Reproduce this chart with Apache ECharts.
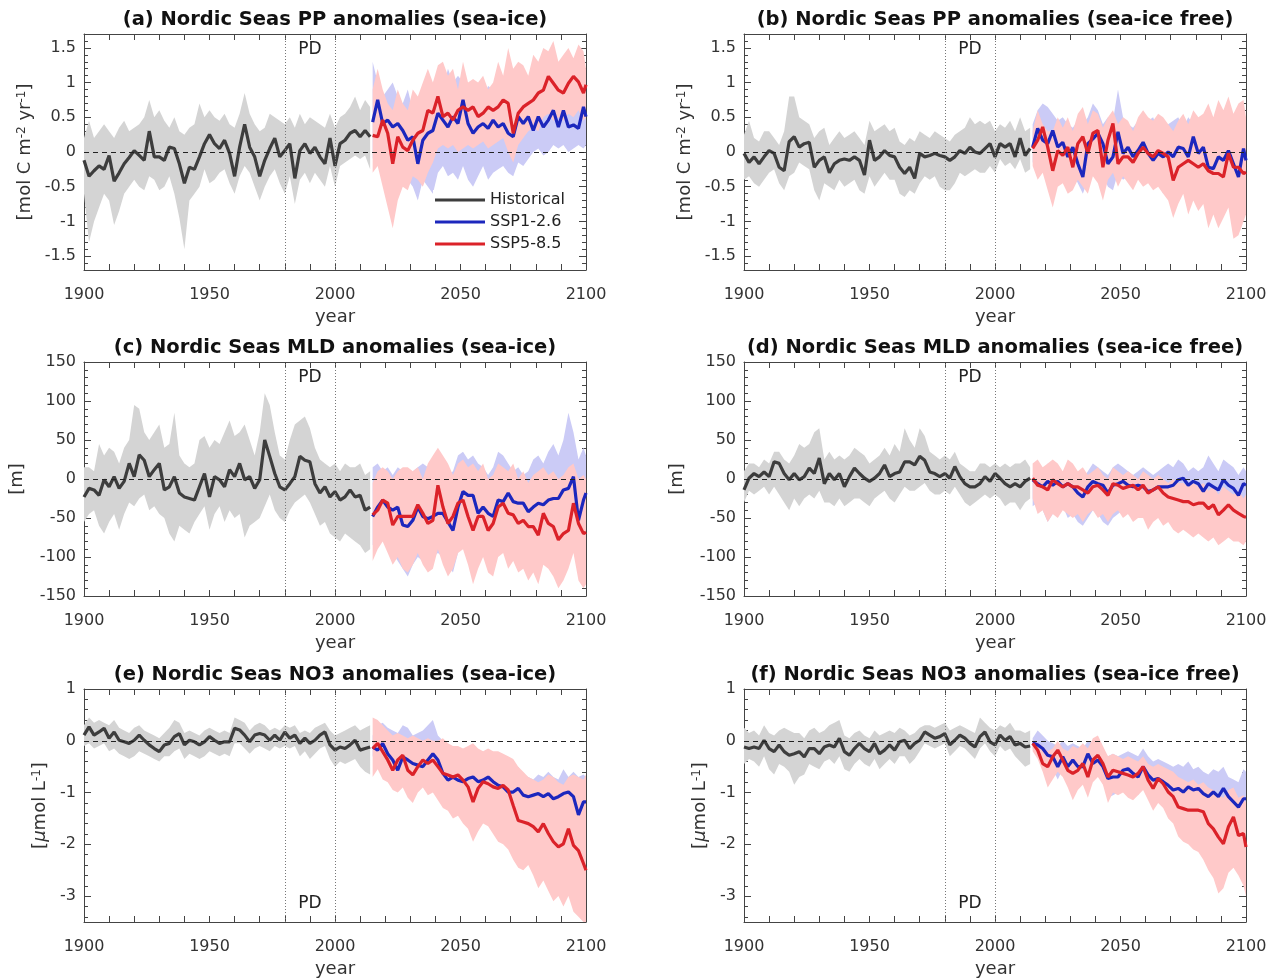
<!DOCTYPE html>
<html>
<head>
<meta charset="utf-8">
<script src="https://cdn.jsdelivr.net/npm/echarts@6/dist/echarts.min.js"></script>
<style>
  html, body { margin: 0; padding: 0; background: #fff; }
  #chart { width: 1272px; height: 979px; }
</style>
</head>
<body>
<div id="chart"></div>
<script>
const FONT = 'DejaVu Sans';

const range = (from, to, step) => {
    const out = [];
    for (let v = from; v <= to + 1e-9; v += step) {
        out.push(Math.round(v * 100) / 100);
    }
    return out;
};

// x categories: historical every 2 years, scenarios every 2 years up to 2100
const histYears = range(1900, 2014, 2);
const futYears = range(2015, 2099, 2).concat([2100]);

// tick labels
const ppTicks = [-1.5, -1, -0.5, 0, 0.5, 1, 1.5];
const mldTicks = [-150, -100, -50, 0, 50, 100, 150];
const no3Ticks = [-3, -2, -1, 0, 1];

// (a) PP, sea-ice
const aHist = [-0.12,-0.35,-0.27,-0.2,-0.25,-0.05,-0.42,-0.3,-0.17,-0.08, 0.02,-0.05,-0.12,0.3,-0.07,-0.07,-0.12,0.07,0.05,-0.17, -0.45,-0.22,-0.25,-0.07,0.12,0.25,0.12,0.05,0.17,-0.02, -0.35,0.07,0.4,0.07,-0.07,-0.35,-0.12,0.05,0.2,-0.07, 0.02,0.12,-0.38,0.02,0.12,-0.02,0.07,-0.07,-0.17,0.2, -0.2,0.12,0.17,0.27,0.31,0.22,0.31,0.22];
const aHistHi = [0.2,0.45,0.2,0.3,0.4,0.3,0.2,0.35,0.45,0.3, 0.35,0.4,0.5,0.75,0.5,0.6,0.45,0.35,0.5,0.3, 0.25,0.35,0.4,0.7,0.5,0.6,0.5,0.45,0.55,0.4, 0.35,0.55,0.85,0.55,0.4,0.3,0.35,0.55,0.5,0.45, 0.4,0.5,0.35,0.55,0.4,0.5,0.45,0.4,0.35,0.55, 0.35,0.5,0.55,0.65,0.8,0.6,0.75,0.65];
const aHistLo = [-0.6,-1.3,-1.0,-0.8,-0.6,-0.7,-1.05,-0.85,-0.6,-0.5, -0.4,-0.5,-0.55,-0.35,-0.4,-0.55,-0.5,-0.35,-0.6,-0.95, -1.4,-0.7,-0.6,-0.5,-0.25,-0.45,-0.4,-0.3,-0.25,-0.45, -0.6,-0.35,-0.2,-0.3,-0.5,-0.7,-0.5,-0.35,-0.25,-0.45, -0.6,-0.35,-0.75,-0.4,-0.3,-0.45,-0.3,-0.4,-0.5,-0.2, -0.5,-0.2,-0.15,-0.1,-0.05,-0.1,-0.05,-0.25];
const aSsp1 = [0.43,0.75,0.41,0.46,0.36,0.41,0.31,0.17,0.22,-0.17, 0.17,0.27,0.31,0.56,0.46,0.36,0.51,0.41,0.75,0.41, 0.27,0.36,0.41,0.34,0.46,0.36,0.41,0.27,0.22,0.51, 0.41,0.51,0.31,0.51,0.36,0.46,0.6,0.36,0.6,0.36, 0.39,0.34,0.65,0.51];
const aSsp1Hi = [1.3,1.0,0.8,0.9,1.0,0.8,0.7,0.9,0.6,0.7, 0.7,0.8,1.0,1.1,0.9,1.2,1.0,1.1,1.0,0.95, 1.0,0.9,0.8,0.95,0.9,0.85,0.9,0.8,0.7,0.95, 0.9,1.0,0.8,0.9,0.85,1.0,1.1,0.9,1.0,0.85, 0.9,0.95,1.0,0.9];
const aSsp1Lo = [-0.1,0.1,-0.1,-0.2,-0.3,-0.1,-0.3,-0.4,-0.5,-0.7, -0.4,-0.5,-0.6,-0.3,-0.2,-0.35,-0.3,-0.4,-0.2,-0.4, -0.5,-0.35,-0.2,-0.4,-0.3,-0.25,-0.2,-0.3,-0.35,-0.15, -0.2,-0.1,0.0,0.05,-0.05,0.0,0.1,0.05,0.1,0.0, 0.05,0.1,0.05,0.1];
const aSsp5 = [0.24,0.22,0.46,0.27,-0.17,0.22,0.07,0.02,0.17,0.27, 0.31,0.6,0.56,0.8,0.51,0.56,0.46,0.6,0.65,0.6, 0.65,0.51,0.56,0.65,0.6,0.65,0.75,0.7,0.27,0.56, 0.65,0.7,0.75,0.85,0.89,1.09,0.99,0.89,0.85,0.99, 1.09,1.01,0.85,0.97];
const aSsp5Hi = [0.9,1.2,0.9,0.7,0.6,0.9,0.7,0.6,0.9,0.8, 1.0,1.2,1.0,1.25,1.3,1.1,1.2,0.9,1.3,1.0, 1.05,1.0,1.1,0.9,1.0,1.3,1.1,1.5,1.2,1.3, 1.25,1.1,1.4,1.3,1.5,1.45,1.6,1.3,1.4,1.5, 1.35,1.55,1.45,1.2];
const aSsp5Lo = [-0.3,-0.2,-0.5,-0.8,-1.1,-0.7,-0.5,-0.55,-0.35,-0.4, -0.5,-0.3,-0.15,0.05,0.1,0.05,0.1,0.0,0.05,0.1, 0.05,0.1,0.15,0.05,0.1,0.15,0.2,0.0,-0.15,0.1, 0.2,0.3,0.35,0.3,0.5,0.55,0.45,0.5,0.45,0.55, 0.5,0.6,0.45,0.5];

// (b) PP, sea-ice free
const bHist = [-0.02,-0.15,-0.07,-0.17,-0.07,0.02,-0.02,-0.22,-0.27,0.15, 0.22,0.07,0.12,0.14,-0.22,-0.12,-0.07,-0.3,-0.17,-0.12, -0.1,-0.12,-0.07,-0.12,-0.33,0.17,-0.12,-0.07,0.02,-0.05, -0.07,-0.22,-0.31,-0.22,-0.38,-0.02,-0.07,-0.05,-0.02,-0.05, -0.07,-0.12,-0.07,0.02,-0.02,0.07,0.0,-0.02,0.05,0.12, -0.07,0.12,0.07,0.12,-0.07,0.2,-0.05,0.05];
const bHistHi = [0.25,0.45,0.2,0.15,0.3,0.3,0.2,0.1,0.3,0.8, 0.8,0.5,0.45,0.4,0.2,0.3,0.35,0.1,0.2,0.3, 0.2,0.25,0.3,0.2,0.1,0.45,0.3,0.35,0.4,0.3, 0.35,0.15,0.1,0.2,0.15,0.3,0.25,0.2,0.3,0.25, 0.2,0.15,0.25,0.3,0.35,0.5,0.4,0.45,0.4,0.45, 0.3,0.4,0.35,0.45,0.3,0.5,0.3,0.35];
const bHistLo = [-0.4,-0.35,-0.45,-0.5,-0.4,-0.3,-0.25,-0.45,-0.55,-0.35, -0.3,-0.15,-0.2,-0.25,-0.55,-0.7,-0.45,-0.5,-0.55,-0.4, -0.5,-0.45,-0.4,-0.55,-0.6,-0.35,-0.5,-0.4,-0.3,-0.4, -0.4,-0.6,-0.65,-0.55,-0.6,-0.45,-0.35,-0.4,-0.35,-0.5, -0.55,-0.55,-0.45,-0.3,-0.35,-0.3,-0.25,-0.3,-0.3,-0.2, -0.3,-0.1,-0.2,-0.15,-0.25,-0.1,-0.3,-0.25];
const bSsp1 = [0.07,0.34,0.17,0.12,0.31,0.07,0.14,-0.07,0.07,-0.17, -0.36,0.12,0.19,0.27,0.12,-0.17,-0.07,0.29,-0.02,0.07, -0.07,0.02,0.14,-0.02,-0.12,-0.02,-0.07,0.0,-0.07,0.07, 0.05,-0.07,0.22,-0.02,0.07,-0.22,-0.24,-0.07,-0.12,0.02, -0.17,-0.36,0.05,-0.12];
const bSsp1Hi = [0.4,0.6,0.7,0.65,0.55,0.45,0.5,0.4,0.35,0.45, 0.4,0.5,0.7,0.6,0.4,0.5,0.45,0.9,0.5,0.4, 0.35,0.45,0.5,0.45,0.5,0.3,0.35,0.4,0.45,0.5, 0.35,0.5,0.4,0.3,0.45,0.3,0.25,0.35,0.3,0.4, 0.2,0.3,0.25,0.2];
const bSsp1Lo = [-0.15,-0.1,-0.3,-0.2,-0.3,-0.35,-0.3,-0.4,-0.3,-0.45, -0.6,-0.4,-0.3,-0.25,-0.35,-0.5,-0.55,-0.3,-0.4,-0.35, -0.45,-0.3,-0.4,-0.35,-0.5,-0.45,-0.6,-0.5,-0.45,-0.4, -0.35,-0.5,-0.3,-0.4,-0.35,-0.55,-0.5,-0.45,-0.5,-0.4, -0.55,-0.6,-0.4,-0.45];
const bSsp5 = [0.05,0.17,0.36,0.07,-0.27,0.02,-0.05,0.07,-0.22,0.12, 0.22,-0.02,0.27,0.31,-0.22,0.17,0.41,-0.17,-0.07,-0.07, -0.15,-0.02,0.07,-0.02,-0.07,0.02,-0.02,-0.07,-0.41,-0.22, -0.17,-0.12,-0.17,-0.22,-0.17,-0.27,-0.31,-0.31,-0.36,-0.02, -0.22,-0.22,-0.31,-0.29];
const bSsp5Hi = [0.3,0.6,0.4,0.3,0.3,0.5,0.35,0.5,0.3,0.55, 0.65,0.4,0.6,0.55,0.35,0.5,0.6,0.4,0.5,0.45, 0.3,0.5,0.6,0.5,0.45,0.55,0.5,0.4,0.3,0.45, 0.55,0.4,0.6,0.5,0.55,0.7,0.5,0.75,0.6,0.8, 0.55,0.7,0.75,0.5];
const bSsp5Lo = [-0.2,-0.4,-0.3,-0.55,-0.8,-0.5,-0.45,-0.6,-0.55,-0.4, -0.5,-0.6,-0.35,-0.45,-0.7,-0.4,-0.3,-0.5,-0.35,-0.45, -0.55,-0.4,-0.5,-0.45,-0.55,-0.5,-0.6,-0.7,-0.95,-0.75, -0.6,-0.9,-0.7,-0.85,-0.75,-1.1,-0.9,-1.1,-0.95,-0.8, -1.25,-1.2,-1.0,-0.9];

// (c) MLD, sea-ice
const cHist = [-23,-12,-14,-21,-1,-10,3,-12,-3,20, 3,31,24,3,12,20,-14,-10,3,-18, -23,-25,-27,-10,7,-23,3,-1,-10,12, 3,20,-1,3,-12,-1,50,29,7,-10, -14,-6,3,29,24,22,-6,-18,-10,-23, -16,-27,-23,-14,-23,-21,-40,-36];
const cHistHi = [15,15,10,45,30,40,35,20,40,50, 95,90,60,50,60,70,40,45,85,30, 20,15,20,50,55,40,50,45,60,75, 55,60,70,50,30,60,110,95,60,30, 25,50,70,75,80,65,40,25,20,15, 20,10,20,15,15,20,5,10];
const cHistLo = [-55,-45,-40,-60,-70,-55,-45,-65,-45,-30, -35,-25,-20,-40,-35,-45,-50,-70,-80,-60, -65,-70,-55,-45,-35,-65,-45,-35,-55,-40, -50,-45,-75,-60,-55,-50,-35,-20,-40,-50, -55,-40,-30,-25,-20,-30,-45,-60,-55,-70, -75,-80,-70,-75,-80,-85,-95,-90];
const cSsp1 = [-48,-36,-27,-36,-40,-36,-59,-61,-53,-36, -48,-51,-48,-44,-44,-55,-66,-36,-16,-21, -21,-44,-36,-44,-48,-27,-29,-18,-29,-31, -31,-42,-36,-31,-33,-27,-25,-25,-14,-12, 3,-53,-27,-18];
const cSsp1Hi = [15,20,10,15,5,15,10,0,10,15, 20,15,10,25,15,5,10,30,35,25, 30,20,15,5,15,35,30,20,10,15, 5,10,25,30,20,35,45,30,50,85, 60,25,40,30];
const cSsp1Lo = [-85,-80,-70,-90,-95,-105,-115,-125,-110,-100, -105,-110,-100,-95,-100,-110,-120,-95,-80,-90, -95,-100,-90,-100,-105,-90,-85,-80,-90,-95, -90,-100,-95,-90,-95,-85,-90,-95,-80,-70, -60,-100,-90,-85];
const cSsp5 = [-46,-40,-27,-31,-59,-48,-48,-48,-48,-33, -44,-57,-53,-8,-36,-57,-48,-31,-27,-48, -66,-48,-48,-66,-57,-36,-31,-44,-46,-57, -53,-61,-61,-72,-44,-57,-61,-78,-70,-66, -31,-57,-70,-68];
const cSsp5Hi = [-5,10,15,10,0,10,15,15,10,15, 0,20,30,40,30,20,5,20,25,15, 20,10,20,0,5,20,15,10,20,0, 10,-5,5,10,15,5,10,0,5,15, 20,0,5,0];
const cSsp5Lo = [-105,-90,-80,-95,-110,-100,-115,-120,-110,-95, -110,-120,-115,-90,-110,-125,-115,-95,-90,-110, -135,-115,-100,-120,-125,-100,-95,-115,-105,-120, -115,-130,-120,-135,-110,-115,-125,-140,-130,-115, -95,-130,-140,-135];

// (d) MLD, sea-ice free
const dHist = [-14,1,7,3,9,3,22,20,7,-1, 7,-1,3,14,7,27,-6,7,-1,7, -10,3,14,7,1,-3,1,7,18,3, 7,9,22,22,18,29,24,9,7,3, 7,1,16,3,-6,-10,-10,-6,3,-3, 7,1,-6,-10,-6,-10,-3,1];
const dHistHi = [10,20,20,15,25,20,35,35,25,20, 30,45,40,45,60,65,25,35,25,30, 25,30,40,35,30,20,25,30,40,30, 45,35,65,50,40,65,55,35,30,25, 30,25,35,20,15,10,10,20,20,15, 20,15,20,15,20,20,25,15];
const dHistLo = [-30,-15,-20,-15,-10,-20,-10,-20,-30,-40, -25,-35,-25,-20,-25,-15,-30,-30,-35,-25, -35,-30,-25,-25,-30,-35,-25,-20,-15,-25, -30,-20,-10,-15,-15,-10,-5,-15,-20,-20, -15,-20,-10,-20,-30,-35,-30,-25,-20,-25, -20,-25,-35,-30,-30,-40,-30,-25];
const dSsp1 = [-1,-6,-10,-3,-8,-3,-10,-6,-10,-18, -23,-10,-3,-6,-8,-18,-8,-6,-3,-8, -10,-8,-10,-16,-14,-10,-10,-10,-8,-1, 1,-8,-3,-6,-16,-6,-10,-14,-1,-8, -12,-21,-6,-8];
const dSsp1Hi = [5,15,10,20,15,10,5,15,10,5, 0,10,20,15,10,5,15,20,15,10, 5,10,15,10,5,10,15,20,15,25, 20,10,15,10,15,30,20,10,25,20, 15,5,15,10];
const dSsp1Lo = [-35,-30,-40,-55,-45,-40,-35,-50,-45,-55, -60,-50,-40,-45,-55,-60,-50,-45,-40,-45, -50,-45,-40,-45,-40,-35,-30,-35,-30,-25, -25,-35,-30,-35,-40,-30,-35,-40,-25,-30, -35,-45,-35,-35];
const dSsp5 = [1,-8,-10,-14,-1,-6,-10,-6,-10,-10, -14,-18,-10,-8,-14,-21,-6,-8,-12,-10, -8,-14,-8,-18,-14,-10,-18,-23,-25,-27, -29,-29,-33,-31,-31,-38,-33,-46,-40,-33, -40,-44,-48,-49];
const dSsp5Hi = [20,25,15,20,25,20,10,25,20,10, 15,5,10,15,5,0,15,10,5,10, 5,0,10,5,0,5,0,-5,0,-5, -5,-10,-5,-10,-5,-15,-10,-20,-10,-15, -20,-15,-25,-20];
const dSsp5Lo = [-25,-45,-40,-55,-45,-50,-40,-45,-50,-45, -55,-45,-40,-50,-45,-55,-45,-40,-50,-45, -55,-50,-50,-65,-55,-50,-60,-55,-65,-70, -65,-70,-75,-70,-75,-80,-75,-85,-80,-75, -80,-80,-85,-80];

// (e) NO3, sea-ice
const eHist = [0.11,0.27,0.11,0.17,0.24,0.05,0.17,0.01,-0.02,-0.05, 0.01,0.11,0.01,-0.08,-0.15,-0.21,-0.08,-0.05,0.08,0.14, -0.08,0.01,-0.02,-0.08,-0.02,0.08,0.01,-0.05,-0.02,-0.02, 0.24,0.21,0.11,-0.02,0.11,0.14,0.11,0.01,0.11,0.01, 0.17,0.05,0.11,-0.05,0.05,-0.05,0.01,0.11,0.17,-0.08, -0.18,-0.12,-0.15,-0.08,0.01,-0.18,-0.15,-0.12];
const eHistHi = [0.3,0.45,0.35,0.4,0.35,0.3,0.4,0.25,0.2,0.15, 0.25,0.3,0.2,0.15,0.1,0.05,0.15,0.25,0.4,0.35, 0.15,0.2,0.15,0.1,0.2,0.25,0.2,0.15,0.2,0.15, 0.45,0.4,0.35,0.2,0.3,0.35,0.3,0.2,0.25,0.2, 0.3,0.25,0.3,0.15,0.2,0.15,0.25,0.3,0.35,0.2, 0.1,0.15,0.2,0.25,0.3,0.2,0.25,0.3];
const eHistLo = [-0.1,-0.05,-0.15,-0.1,-0.05,-0.2,-0.15,-0.25,-0.3,-0.35, -0.3,-0.2,-0.25,-0.3,-0.35,-0.4,-0.3,-0.3,-0.2,-0.15, -0.35,-0.25,-0.3,-0.35,-0.3,-0.2,-0.25,-0.3,-0.25,-0.3, -0.05,-0.05,-0.15,-0.25,-0.15,-0.1,-0.15,-0.2,-0.1,-0.15, -0.1,-0.15,-0.1,-0.3,-0.2,-0.35,-0.25,-0.15,-0.1,-0.35, -0.5,-0.4,-0.45,-0.4,-0.35,-0.5,-0.6,-0.65];
const eSsp1 = [-0.12,-0.18,-0.05,-0.25,-0.37,-0.57,-0.31,-0.37,-0.44,-0.47, -0.5,-0.37,-0.25,-0.37,-0.63,-0.76,-0.7,-0.76,-0.79,-0.73, -0.7,-0.79,-0.76,-0.7,-0.79,-0.86,-0.89,-0.99,-0.99,-0.92, -1.05,-1.08,-1.05,-1.02,-1.08,-1.02,-1.12,-1.08,-1.02,-0.99, -1.08,-1.43,-1.18,-1.18];
const eSsp1Hi = [0.1,0.3,0.35,0.25,0.2,0.15,0.3,0.25,0.1,0.15, 0.2,0.3,0.4,0.1,0.0,-0.1,-0.15,-0.2,-0.3,-0.25, -0.3,-0.35,-0.3,-0.35,-0.3,-0.4,-0.45,-0.5,-0.55,-0.5, -0.65,-0.7,-0.75,-0.65,-0.7,-0.6,-0.7,-0.75,-0.55,-0.7, -0.6,-0.7,-0.65,-0.7];
const eSsp1Lo = [-0.3,-0.4,-0.45,-0.55,-0.75,-0.9,-0.6,-0.7,-0.75,-0.8, -0.75,-0.7,-0.6,-0.75,-0.95,-1.05,-1.0,-1.1,-1.1,-1.05, -1.0,-1.1,-1.05,-1.0,-1.1,-1.2,-1.25,-1.35,-1.3,-1.25, -1.4,-1.45,-1.4,-1.35,-1.45,-1.4,-1.5,-1.45,-1.4,-1.35, -1.45,-1.8,-1.55,-1.5];
const eSsp5 = [-0.15,-0.05,-0.21,-0.37,-0.57,-0.37,-0.28,-0.57,-0.66,-0.5, -0.37,-0.44,-0.37,-0.5,-0.63,-0.66,-0.7,-0.66,-0.76,-0.89, -1.18,-0.92,-0.79,-0.83,-0.89,-0.92,-0.86,-0.95,-1.25,-1.54, -1.57,-1.6,-1.66,-1.76,-1.6,-1.79,-1.95,-2.05,-1.99,-1.7, -2.02,-2.12,-2.37,-2.5];
const eSsp5Hi = [0.45,0.4,0.3,0.2,0.1,0.15,0.1,0.05,0.1,0.05, 0.0,0.05,0.0,0.0,0.05,-0.05,-0.1,-0.1,-0.15,-0.1, -0.05,-0.15,-0.2,-0.15,-0.2,-0.2,-0.25,-0.3,-0.35,-0.5, -0.6,-0.7,-0.75,-0.8,-0.75,-0.65,-0.7,-0.8,-0.85,-0.7, -0.65,-0.7,-0.75,-0.65];
const eSsp5Lo = [-0.7,-0.55,-0.75,-0.8,-0.95,-1.0,-0.9,-1.1,-1.2,-1.0, -0.9,-1.05,-1.0,-1.15,-1.3,-1.35,-1.5,-1.45,-1.6,-1.7, -1.95,-1.75,-1.6,-1.65,-1.8,-1.95,-2.0,-2.1,-2.3,-2.45, -2.5,-2.4,-2.6,-2.85,-2.7,-2.9,-3.1,-3.0,-3.2,-3.0, -3.3,-3.4,-3.5,-3.5];

// (f) NO3, sea-ice free
const fHist = [-0.12,-0.15,-0.12,-0.15,0.01,-0.15,-0.21,-0.08,-0.21,-0.28, -0.25,-0.21,-0.31,-0.15,-0.15,-0.25,-0.12,-0.08,-0.12,0.05, -0.21,-0.28,-0.15,-0.05,-0.15,-0.21,-0.05,-0.25,-0.18,-0.08, -0.18,-0.02,0.01,-0.15,-0.05,0.01,0.17,0.11,0.05,0.08, 0.14,-0.08,0.01,0.11,0.05,-0.05,-0.12,0.08,0.17,-0.02, -0.08,0.11,0.01,0.08,-0.08,-0.05,-0.12,-0.1];
const fHistHi = [0.25,0.15,0.2,0.1,0.3,0.15,0.1,0.2,0.25,0.2, 0.15,0.15,0.05,0.2,0.25,0.15,0.2,0.3,0.35,0.4, 0.1,0.05,0.15,0.2,0.1,0.05,0.2,0.1,0.15,0.2, 0.15,0.25,0.2,0.1,0.15,0.25,0.3,0.3,0.25,0.3, 0.35,0.2,0.25,0.3,0.25,0.2,0.15,0.45,0.35,0.25, 0.2,0.3,0.25,0.35,0.2,0.2,0.15,0.2];
const fHistLo = [-0.45,-0.35,-0.4,-0.5,-0.3,-0.55,-0.65,-0.45,-0.5,-0.6, -0.85,-0.7,-0.65,-0.45,-0.5,-0.55,-0.4,-0.35,-0.45,-0.3, -0.55,-0.6,-0.45,-0.35,-0.45,-0.5,-0.35,-0.55,-0.45,-0.35, -0.45,-0.3,-0.3,-0.45,-0.35,-0.2,-0.05,-0.1,-0.15,-0.1, -0.05,-0.3,-0.2,-0.1,-0.15,-0.25,-0.35,-0.15,-0.05,-0.2, -0.3,-0.1,-0.2,-0.15,-0.3,-0.4,-0.5,-0.45];
const fSsp1 = [-0.04,-0.08,-0.15,-0.28,-0.31,-0.5,-0.31,-0.5,-0.37,-0.5, -0.5,-0.25,-0.44,-0.37,-0.5,-0.73,-0.7,-0.7,-0.57,-0.54, -0.63,-0.7,-0.5,-0.66,-0.76,-0.73,-0.79,-0.86,-0.95,-0.92, -0.99,-0.89,-0.95,-0.92,-1.02,-1.08,-0.99,-1.08,-0.92,-1.08, -1.18,-1.28,-1.12,-1.12];
const fSsp1Hi = [0.05,0.2,0.1,0.0,-0.05,-0.1,0.0,-0.1,-0.05,-0.1, -0.15,0.0,-0.05,-0.1,-0.2,-0.3,-0.25,-0.3,-0.25,-0.2, -0.25,-0.3,-0.15,-0.3,-0.4,-0.35,-0.4,-0.45,-0.5,-0.45, -0.5,-0.4,-0.55,-0.5,-0.6,-0.65,-0.55,-0.6,-0.5,-0.7, -0.75,-0.8,-0.55,-0.6];
const fSsp1Lo = [-0.15,-0.3,-0.35,-0.5,-0.55,-0.75,-0.55,-0.8,-0.65,-0.75, -0.8,-0.55,-0.7,-0.65,-0.8,-1.1,-1.05,-1.0,-0.9,-0.85, -0.95,-1.05,-0.85,-1.0,-1.1,-1.05,-1.15,-1.2,-1.3,-1.25, -1.35,-1.25,-1.3,-1.25,-1.35,-1.45,-1.35,-1.45,-1.3,-1.45, -1.55,-1.65,-1.5,-1.5];
const fSsp5 = [-0.05,-0.18,-0.44,-0.5,-0.31,-0.18,-0.37,-0.57,-0.63,-0.57, -0.44,-0.7,-0.37,-0.28,-0.44,-0.7,-0.57,-0.6,-0.63,-0.66, -0.7,-0.63,-0.5,-0.76,-0.92,-0.73,-0.83,-0.99,-1.08,-1.28, -1.31,-1.34,-1.34,-1.34,-1.37,-1.6,-1.7,-1.86,-1.99,-1.66, -1.47,-1.83,-1.79,-2.05];
const fSsp5Hi = [0.0,-0.05,-0.1,-0.2,-0.15,0.0,-0.15,-0.2,-0.1,-0.15, -0.05,-0.15,0.05,0.1,-0.1,-0.3,-0.25,-0.3,-0.35,-0.3, -0.35,-0.4,-0.3,-0.45,-0.5,-0.45,-0.5,-0.55,-0.6,-0.7, -0.75,-0.8,-0.75,-0.85,-0.8,-0.9,-0.95,-1.05,-1.1,-0.95, -0.9,-1.1,-1.05,-1.2];
const fSsp5Lo = [-0.2,-0.35,-0.6,-0.9,-0.75,-0.6,-0.7,-0.9,-1.15,-0.95, -0.85,-1.1,-0.8,-0.7,-0.85,-1.2,-1.0,-1.05,-1.0,-1.1, -1.15,-1.05,-0.95,-1.15,-1.35,-1.2,-1.3,-1.5,-1.6,-1.85, -1.95,-2.0,-2.1,-2.15,-2.3,-2.5,-2.65,-2.95,-2.85,-2.55, -2.45,-2.6,-2.8,-3.0];

const yScales = {
    pp: {min: -1.7, max: 1.7, major: ppTicks, minor: range(-1.7, 1.7, 0.1),
         name: '[mol C m{sup|-2} yr{sup|-1}]', gap: 50},
    mld: {min: -150, max: 150, major: mldTicks, minor: range(-150, 150, 10),
          name: '[m]', gap: 58},
    no3: {min: -3.5, max: 1, major: no3Ticks, minor: range(-3.4, 1, 0.2),
          name: '[{mu|μ}mol L{sup|-1}]', gap: 35, pdBottom: true},
};

const panels = [
    {title: '(a) Nordic Seas PP anomalies (sea-ice)', scale: 'pp',
     hist: aHist, histLo: aHistLo, histHi: aHistHi, s1: aSsp1, s1Lo: aSsp1Lo, s1Hi: aSsp1Hi, s5: aSsp5, s5Lo: aSsp5Lo, s5Hi: aSsp5Hi},
    {title: '(b) Nordic Seas PP anomalies (sea-ice free)', scale: 'pp',
     hist: bHist, histLo: bHistLo, histHi: bHistHi, s1: bSsp1, s1Lo: bSsp1Lo, s1Hi: bSsp1Hi, s5: bSsp5, s5Lo: bSsp5Lo, s5Hi: bSsp5Hi},
    {title: '(c) Nordic Seas MLD anomalies (sea-ice)', scale: 'mld',
     hist: cHist, histLo: cHistLo, histHi: cHistHi, s1: cSsp1, s1Lo: cSsp1Lo, s1Hi: cSsp1Hi, s5: cSsp5, s5Lo: cSsp5Lo, s5Hi: cSsp5Hi},
    {title: '(d) Nordic Seas MLD anomalies (sea-ice free)', scale: 'mld',
     hist: dHist, histLo: dHistLo, histHi: dHistHi, s1: dSsp1, s1Lo: dSsp1Lo, s1Hi: dSsp1Hi, s5: dSsp5, s5Lo: dSsp5Lo, s5Hi: dSsp5Hi},
    {title: '(e) Nordic Seas NO3 anomalies (sea-ice)', scale: 'no3',
     hist: eHist, histLo: eHistLo, histHi: eHistHi, s1: eSsp1, s1Lo: eSsp1Lo, s1Hi: eSsp1Hi, s5: eSsp5, s5Lo: eSsp5Lo, s5Hi: eSsp5Hi},
    {title: '(f) Nordic Seas NO3 anomalies (sea-ice free)', scale: 'no3',
     hist: fHist, histLo: fHistLo, histHi: fHistHi, s1: fSsp1, s1Lo: fSsp1Lo, s1Hi: fSsp1Hi, s5: fSsp5, s5Lo: fSsp5Lo, s5Hi: fSsp5Hi},
];

const colors = {
    hist: '#3d3d3d', histBand: '#d4d4d4',
    ssp1: '#1c27bd', ssp1Band: '#cbcbf6',
    ssp5: '#db2229', ssp5Band: '#ffc9c9',
};
const axisColor = '#444';
const gridLeft = [84, 744];
const gridTop = [34, 362, 689];
const gridHeight = [236, 234, 233];
const gridWidth = 502;

function bandSeries(i, name, years, lo, hi, color) {
    const data = years.map((y, k) => [y, lo[k], hi[k]]);
    return {
        type: 'custom', name, xAxisIndex: 2 * i, yAxisIndex: 4 * i,
        z: 1, silent: true, data,
        encode: {x: 0, y: [1, 2]},
        renderItem(params, api) {
            if (params.dataIndexInside !== 0) {
                return null;
            }
            const upper = data.map(d => api.coord([d[0], d[2]]));
            const lower = data.map(d => api.coord([d[0], d[1]])).reverse();
            return {type: 'polygon', shape: {points: upper.concat(lower)}, style: {fill: color}};
        }
    };
}

function lineSeries(i, name, years, values, color) {
    return {
        type: 'line', name, xAxisIndex: 2 * i, yAxisIndex: 4 * i,
        z: 3, silent: true, symbol: 'none', color,
        data: years.map((y, k) => [y, values[k]]),
        lineStyle: {color, width: 3.2},
    };
}

const grid = [], xAxis = [], yAxis = [], series = [], title = [];

panels.forEach((p, i) => {
    const col = i % 2, row = Math.floor(i / 2);
    const sc = yScales[p.scale];
    const centerX = gridLeft[col] + gridWidth / 2;

    grid.push({left: gridLeft[col], top: gridTop[row], width: gridWidth, height: gridHeight[row], outerBoundsMode: 'none'});

    title.push({
        text: p.title, left: centerX, top: gridTop[row] - 24, textAlign: 'center', padding: 0,
        textStyle: {fontFamily: FONT, fontSize: 19.5, fontWeight: 'bold', color: '#111'}
    });

    ['bottom', 'top'].forEach(pos => {
        xAxis.push({
            gridIndex: i, type: 'value', position: pos, min: 1900, max: 2100, interval: 10,
            axisLine: {onZero: false, lineStyle: {color: axisColor, width: 1}},
            axisTick: {inside: true, length: 6, lineStyle: {color: axisColor}},
            axisLabel: {
                show: pos === 'bottom', margin: 17, fontFamily: FONT, fontSize: 16, color: '#333',
                formatter: v => (v % 50 === 0 ? String(v) : '')
            },
            splitLine: {show: false},
            name: pos === 'bottom' ? 'year' : '',
            nameLocation: 'middle', nameGap: 38,
            nameTextStyle: {fontFamily: FONT, fontSize: 18, color: '#333'},
        });
    });

    ['left', 'right'].forEach(pos => {
        [true, false].forEach(isMajor => {
            const withLabels = pos === 'left' && isMajor;
            yAxis.push({
                gridIndex: i, type: 'value', position: pos, min: sc.min, max: sc.max,
                axisLine: {show: isMajor, onZero: false, lineStyle: {color: axisColor, width: 1}},
                axisTick: {inside: true, length: isMajor ? 7 : 4, customValues: isMajor ? sc.major : sc.minor,
                           lineStyle: {color: axisColor}},
                axisLabel: {show: withLabels, customValues: sc.major, margin: 8,
                            fontFamily: FONT, fontSize: 16, color: '#333'},
                splitLine: {show: false},
                name: withLabels ? sc.name : '',
                nameLocation: 'middle', nameGap: sc.gap,
                nameTextStyle: {
                    fontFamily: FONT, fontSize: 18, color: '#333',
                    rich: {
                        sup: {fontFamily: FONT, fontSize: 12, color: '#333', verticalAlign: 'top'},
                        mu: {fontFamily: FONT, fontSize: 18, color: '#333', fontStyle: 'italic'},
                    }
                },
            });
        });
    });

    series.push(bandSeries(i, 'Historical band', histYears, p.histLo, p.histHi, colors.histBand));
    series.push(bandSeries(i, 'SSP1-2.6 band', futYears, p.s1Lo, p.s1Hi, colors.ssp1Band));
    series.push(bandSeries(i, 'SSP5-8.5 band', futYears, p.s5Lo, p.s5Hi, colors.ssp5Band));

    const hist = lineSeries(i, 'Historical', histYears, p.hist, colors.hist);
    hist.markLine = {
        silent: true, symbol: 'none', label: {show: false}, animation: false,
        data: [
            {yAxis: 0, lineStyle: {type: [5, 4], color: '#222', width: 1.2}},
            {xAxis: 1980, lineStyle: {type: [1, 2], color: '#777', width: 1}},
            {xAxis: 2000, lineStyle: {type: [1, 2], color: '#777', width: 1}},
        ]
    };
    hist.markArea = {
        silent: true,
        itemStyle: {color: 'rgba(0,0,0,0)'},
        label: {
            show: true, position: sc.pdBottom ? 'insideBottom' : 'insideTop',
            distance: sc.pdBottom ? 10 : 7,
            fontFamily: FONT, fontSize: 17, color: '#222'
        },
        data: [[{name: 'PD', xAxis: 1980}, {xAxis: 2000}]]
    };
    series.push(hist);
    series.push(lineSeries(i, 'SSP1-2.6', futYears, p.s1, colors.ssp1));
    series.push(lineSeries(i, 'SSP5-8.5', futYears, p.s5, colors.ssp5));
});

const chart = echarts.init(document.getElementById('chart'), null, {renderer: 'canvas'});
chart.setOption({
    animation: false,
    backgroundColor: '#fff',
    textStyle: {fontFamily: FONT},
    title,
    grid,
    xAxis,
    yAxis,
    legend: {
        data: ['Historical', 'SSP1-2.6', 'SSP5-8.5'],
        icon: 'rect',
        orient: 'vertical', left: 433, top: 190,
        itemWidth: 50, itemHeight: 3, itemGap: 6,
        padding: [2, 4, 2, 2],
        backgroundColor: '#fff',
        selectedMode: false,
        textStyle: {fontFamily: FONT, fontSize: 16, color: '#222'}
    },
    series
});
</script>
</body>
</html>
